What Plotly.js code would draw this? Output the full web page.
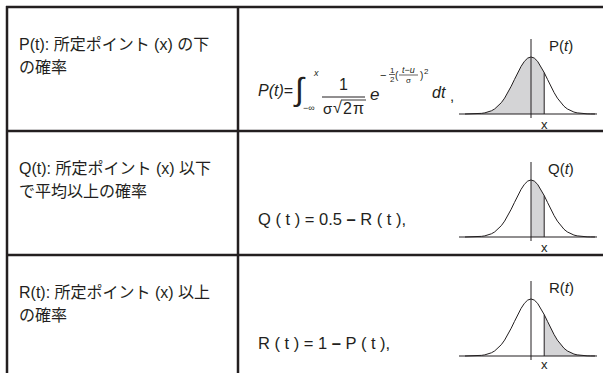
<!DOCTYPE html>
<html>
<head>
<meta charset="utf-8">
<script src="https://cdn.plot.ly/plotly-3.0.1.min.js"></script>
<style>html,body{margin:0;padding:0;background:#fff;}#chart{width:603px;height:373px;}</style>
</head>
<body>
<div id="chart"></div>
<script>
// ---- data ----
const rowLabels = [
  ["P(t): 所定ポイント (x) の下", "の確率"],
  ["Q(t): 所定ポイント (x) 以下", "で平均以上の確率"],
  ["R(t): 所定ポイント (x) 以上", "の確率"]
];
const curveLabels = ["P(<i>t</i>)", "Q(<i>t</i>)", "R(<i>t</i>)"];
const formulaQ = "Q ( t ) = 0.5 <b>–</b> R ( t ),";
const formulaR = "R ( t ) = 1 <b>–</b> P ( t ),";
// standard normal density, read as a table
const zVals = [-4.0,-3.8,-3.6,-3.4,-3.2,-3.0,-2.8,-2.6,-2.4,-2.2,-2.0,-1.8,-1.6,-1.4,-1.2,-1.0,-0.8,-0.6,-0.4,-0.2,
               0.0,0.2,0.4,0.6,0.8,1.0,1.2,1.4,1.6,1.8,2.0,2.2,2.4,2.6,2.8,3.0,3.2,3.4,3.6,3.8,4.0];
const pdfVals = [0.0001,0.0003,0.0006,0.0012,0.0024,0.0044,0.0079,0.0136,0.0224,0.0355,0.0540,0.0790,0.1109,0.1497,0.1942,0.2420,0.2897,0.3332,0.3683,0.3910,
                 0.3989,0.3910,0.3683,0.3332,0.2897,0.2420,0.1942,0.1497,0.1109,0.0790,0.0540,0.0355,0.0224,0.0136,0.0079,0.0044,0.0024,0.0012,0.0006,0.0003,0.0001];
const pointX = 0.8;
const shadeRanges = [[-4.0, 0.8], [0.0, 0.8], [0.8, 4.0]];

// ---- layout helpers (pixel geometry) ----
const W = 603, H = 373;
const ink = "#231f20";
const shade = "#d4d4d6";
const FONT = "Liberation Sans, Arial, Noto Sans CJK JP, sans-serif";
const baseY = [114, 237, 356];
const xLabY = [124, 247, 364];
const cx = 531, sig = 16.5, yScale = 143;
const pxL = 455, pxR = 600, upPx = 80, downPx = 10;

const data = [];
const layout = {
  width: W, height: H,
  margin: {l: 0, r: 0, t: 0, b: 0, pad: 0},
  paper_bgcolor: "#fff", plot_bgcolor: "rgba(0,0,0,0)",
  showlegend: false,
  xaxis: {range: [0, W], visible: false, fixedrange: true, domain: [0, 1]},
  yaxis: {range: [H, 0], visible: false, fixedrange: true, domain: [0, 1]},
  shapes: [], annotations: []
};

function ann(x, y, text, size, opts) {
  layout.annotations.push(Object.assign({
    x: x, y: y, xref: "x", yref: "y", text: text, showarrow: false,
    xanchor: "center", yanchor: "middle",
    font: {family: FONT, size: size, color: ink}
  }, opts || {}));
}
function pline(x0, y0, x1, y1, w) {
  layout.shapes.push({type: "line", xref: "x", yref: "y", x0: x0, y0: y0, x1: x1, y1: y1,
    line: {color: ink, width: w}});
}

// table lines
pline(6, 7, W, 7, 2.5);
pline(7, 6, 7, H, 2.5);
pline(238, 6, 238, H, 2.5);
pline(6, 131, W, 131, 2.5);
pline(6, 255, W, 255, 2.5);

// left-column labels
rowLabels.forEach((lines, i) => {
  const top = [44, 168, 292][i];
  lines.forEach((t, j) => ann(17, top + j * 23, t, 16, {xanchor: "left"}));
});

// bell curves
const pAtX = pdfVals[zVals.indexOf(pointX)];
for (let i = 0; i < 3; i++) {
  const n = i + 2;
  const xa = "xaxis" + n, ya = "yaxis" + n;
  const b = baseY[i];
  layout[xa] = {domain: [pxL / W, pxR / W], range: [(pxL - cx) / sig, (pxR - cx) / sig],
    visible: false, fixedrange: true, anchor: "y" + n};
  layout[ya] = {domain: [1 - (b + downPx) / H, 1 - (b - upPx) / H], range: [-downPx / yScale, upPx / yScale],
    visible: false, fixedrange: true, anchor: "x" + n};
  const [s0, s1] = shadeRanges[i];
  const sx = [], sy = [];
  zVals.forEach((z, k) => { if (z >= s0 - 1e-9 && z <= s1 + 1e-9) { sx.push(z); sy.push(pdfVals[k]); } });
  data.push({type: "scatter", mode: "lines", x: sx, y: sy, xaxis: "x" + n, yaxis: "y" + n,
    fill: "tozeroy", fillcolor: shade, line: {width: 0, color: shade}, hoverinfo: "skip"});
  data.push({type: "scatter", mode: "lines", x: zVals, y: pdfVals, xaxis: "x" + n, yaxis: "y" + n,
    line: {width: 1, color: ink}, hoverinfo: "skip"});
  const xr = "x" + n, yr = "y" + n;
  layout.shapes.push({type: "line", xref: xr, yref: yr, x0: (459 - cx) / sig, x1: (595 - cx) / sig, y0: 0, y1: 0,
    line: {color: ink, width: 1.2}});
  layout.shapes.push({type: "line", xref: xr, yref: yr, x0: 0, x1: 0, y0: -4 / yScale, y1: 75 / yScale,
    line: {color: ink, width: 1}});
  layout.shapes.push({type: "line", xref: xr, yref: yr, x0: pointX, x1: pointX, y0: 0, y1: pAtX,
    line: {color: ink, width: 1}});
  layout.annotations.push({x: pointX, y: xLabY[i], xref: xr, yref: "y", text: "x", showarrow: false,
    xanchor: "center", yanchor: "middle", borderpad: 0, font: {family: FONT, size: 13, color: ink}});
  ann(561, b - 69, curveLabels[i], 15);
}

// formula row 1 (composed)
ann(256, 90, "<i>P(t)</i>=", 16, {xanchor: "left"});
ann(299, 89, "<i>∫</i>", 32);
ann(316, 73, "<i>x</i>", 9);
ann(309, 108, "−∞", 9);
ann(343, 84, "1", 16);
pline(322, 97, 365, 97, 1);
ann(328, 108, "σ", 15);
ann(337, 107, "√", 16);
ann(347, 108, "2", 16);
ann(358, 108, "π", 16);
pline(341, 100, 366, 100, 0.9);
ann(374, 94, "<i>e</i>", 17);
ann(383, 75, "−", 11);
ann(392, 70, "1", 8);
pline(389, 74.5, 395, 74.5, 0.7);
ann(392, 79, "2", 8);
ann(397, 75, "(", 10);
ann(408, 70, "<i>t</i>−<i>u</i>", 9);
pline(399, 75, 418, 75, 0.7);
ann(408, 80, "σ", 8);
ann(421, 75, ")", 10);
ann(426, 71, "2", 8);
ann(439, 92, "<i>dt</i>", 16);
ann(452, 95, ",", 15);

// formulas rows 2, 3
ann(256, 219, formulaQ, 16.5, {xanchor: "left"});
ann(256, 343, formulaR, 16.5, {xanchor: "left"});

Plotly.newPlot("chart", data, layout, {staticPlot: true, displayModeBar: false});
</script>
</body>
</html>
